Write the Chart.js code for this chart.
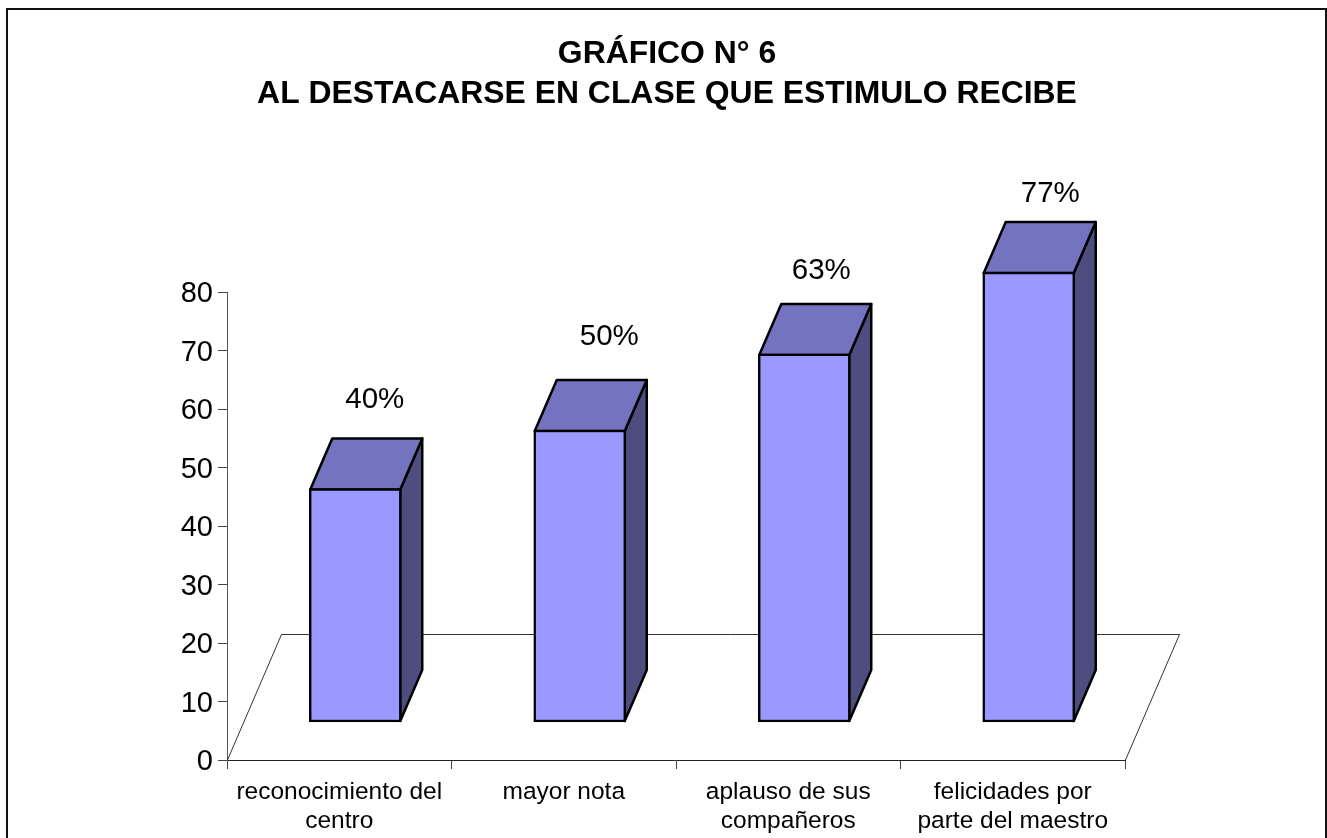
<!DOCTYPE html>
<html>
<head>
<meta charset="utf-8">
<title>Gráfico 6</title>
<script src="https://cdn.jsdelivr.net/npm/chart.js@4"></script>
<style>
  html, body { margin: 0; padding: 0; background: #fff; overflow: hidden; }
  canvas { display: block; }
</style>
</head>
<body>
<canvas id="chart" width="1327" height="838"></canvas>
<script>
// chart values
const categories = [
  ['reconocimiento del', 'centro'],
  'mayor nota',
  ['aplauso de sus', 'compañeros'],
  ['felicidades por', 'parte del maestro']
];
const values = [40, 50, 63, 77];
const valueLabels = ['40%', '50%', '63%', '77%'];
const titleLines = ['GRÁFICO N° 6', 'AL DESTACARSE EN CLASE QUE ESTIMULO RECIBE'];

const FONT = '"Liberation Sans", Arial, sans-serif';

// fake 3D look: floor depth, bar depth and where the bars stand on the floor
const floorDepth = { x: 54, y: 126 };
const barDepth = { x: 22, y: 51 };
const barShift = { x: 16, y: 37.5 };
// the labels sit a bit unevenly in the original
const labelNudgeX = [35.5, 45.5, 33, 37.5];
const labelNudgeY = [126.5, 131, 121, 116];

function poly(ctx, pts, fill) {
  ctx.beginPath();
  pts.forEach((p, i) => i ? ctx.lineTo(p[0], p[1]) : ctx.moveTo(p[0], p[1]));
  ctx.closePath();
  if (fill) { ctx.fillStyle = fill; ctx.fill(); }
  ctx.stroke();
}

// the tick digits sit a little lower in the reference than textBaseline middle puts them
function lowerLabels(scale, dy) {
  const draw = scale.drawLabels;
  scale.drawLabels = function (area) {
    const ctx = this.ctx;
    ctx.save();
    ctx.translate(0, dy);
    draw.call(this, area);
    ctx.restore();
  };
}

const fake3d = {
  id: 'fake3d',
  beforeDraw(chart) {
    // outer frame, open at the bottom
    const { ctx, width, height } = chart;
    ctx.save();
    ctx.strokeStyle = '#111';
    ctx.lineWidth = 2;
    ctx.beginPath();
    ctx.moveTo(7, height);
    ctx.lineTo(7, 9);
    ctx.lineTo(width - 1, 9);
    ctx.lineTo(width - 1, height);
    ctx.stroke();
    ctx.restore();
  },
  beforeDatasetsDraw(chart) {
    const { ctx, chartArea: a } = chart;
    // floor
    ctx.save();
    ctx.strokeStyle = '#333';
    ctx.lineWidth = 1;
    ctx.beginPath();
    ctx.moveTo(a.left + 0.5, a.bottom);
    ctx.lineTo(a.left + floorDepth.x + 0.5, a.bottom - floorDepth.y + 0.5);
    ctx.lineTo(a.right + floorDepth.x + 0.5, a.bottom - floorDepth.y + 0.5);
    ctx.lineTo(a.right + 0.5, a.bottom);
    ctx.stroke();
    ctx.restore();

    // side and top faces, then leave the canvas shifted for the bars themselves
    ctx.save();
    ctx.translate(barShift.x, -barShift.y);
    ctx.strokeStyle = '#000';
    ctx.lineWidth = 2.5;
    ctx.lineJoin = 'round';
    chart.getDatasetMeta(0).data.forEach(bar => {
      const l = bar.x - bar.width / 2 + 1, r = bar.x + bar.width / 2 - 1;
      const t = bar.y + 1, b = bar.base - 1;
      poly(ctx, [[r, t], [r + barDepth.x, t - barDepth.y], [r + barDepth.x, b - barDepth.y], [r, b]], '#4D4D80');
      poly(ctx, [[l, t], [l + barDepth.x, t - barDepth.y], [r + barDepth.x, t - barDepth.y], [r, t]], '#7373BF');
    });
  },
  afterDatasetsDraw(chart) {
    const { ctx } = chart;
    ctx.restore();
    ctx.save();
    ctx.fillStyle = '#000';
    ctx.font = '29.5px ' + FONT;
    ctx.textAlign = 'center';
    ctx.textBaseline = 'middle';
    chart.getDatasetMeta(0).data.forEach((bar, i) => {
      ctx.fillText(valueLabels[i], bar.x + labelNudgeX[i], bar.y - labelNudgeY[i]);
    });
    ctx.restore();
  }
};

const chart = new Chart(document.getElementById('chart').getContext('2d'), {
  type: 'bar',
  data: {
    labels: categories,
    datasets: [{
      data: values,
      backgroundColor: '#9999FF',
      borderColor: '#000',
      borderWidth: 2.5,
      borderSkipped: false,
      barThickness: 92
    }]
  },
  plugins: [fake3d],
  options: {
    responsive: false,
    animation: false,
    devicePixelRatio: 1,
    layout: { padding: { left: 7 } },
    plugins: {
      legend: { display: false },
      tooltip: { enabled: false },
      title: {
        display: true,
        text: titleLines,
        color: '#000',
        font: { family: FONT, size: 31.9, weight: 'bold', lineHeight: 40 / 31.9 },
        padding: { top: 34, bottom: 178 }
      }
    },
    scales: {
      x: {
        afterFit: s => { s.height = 78; },
        border: { color: '#222', width: 1 },
        grid: { drawOnChartArea: false, drawTicks: true, tickLength: 9, tickColor: '#444' },
        ticks: {
          color: '#000',
          padding: 8.5,
          maxRotation: 0,
          autoSkip: false,
          font: { family: FONT, size: 24.5, lineHeight: 1.19 }
        }
      },
      y: {
        min: 0,
        max: 80,
        afterFit: s => { s.width = 220; },
        border: { color: '#555', width: 1 },
        grid: { drawOnChartArea: false, drawTicks: true, tickLength: 9, tickColor: '#444' },
        ticks: {
          stepSize: 10,
          color: '#000',
          padding: 5,
          font: { family: FONT, size: 29 }
        }
      },
      // only holds the empty space right of the plot so the title stays centred on the page
      spacer: {
        type: 'linear',
        position: 'right',
        afterFit: s => { s.width = 202; },
        border: { display: false },
        grid: { display: false },
        ticks: { display: false }
      }
    }
  }
});
lowerLabels(chart.scales.y, 2);
chart.draw();
</script>
</body>
</html>
